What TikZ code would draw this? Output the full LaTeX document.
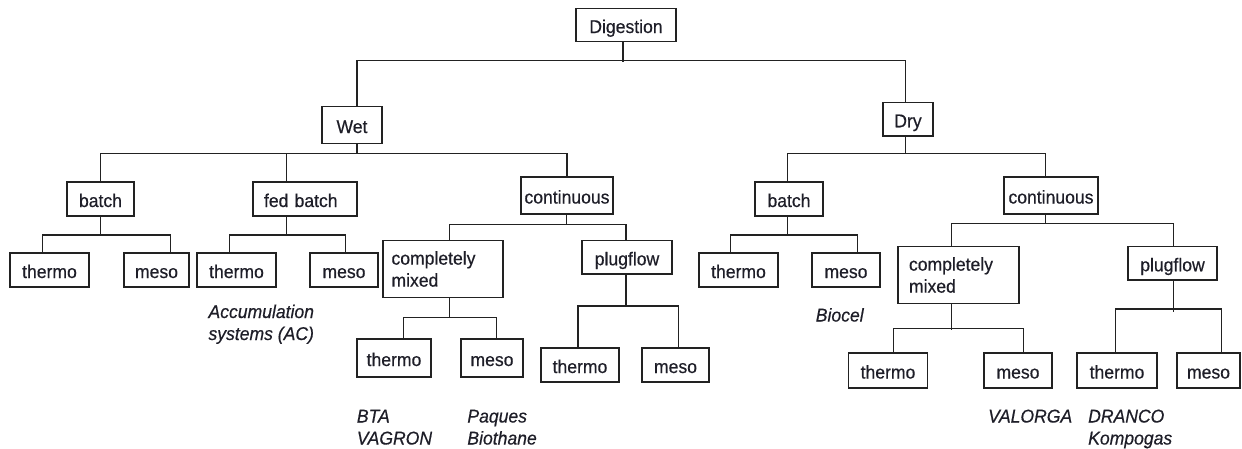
\documentclass[tikz,border=0pt]{standalone}
\usepackage{fontspec}
\setmainfont[FakeStretch=0.95,FakeBold=0.5]{Liberation Sans}
\definecolor{linegray}{HTML}{222222}
\definecolor{textdark}{HTML}{1E1E28}
\begin{document}
\begin{tikzpicture}[x=1pt,y=-1pt,
  font=\fontsize{18.5}{22}\selectfont,
  frame/.style={draw=linegray, line width=1.3pt, inner sep=0pt, minimum height=34pt, text=textdark},
  box/.style={frame, text height=16pt, text depth=0pt},
  link/.style={draw=linegray, line width=1.3pt},
  maker/.style={font=\fontsize{18.5}{22}\selectfont\itshape, inner sep=0pt, align=left, anchor=base west, text=textdark}
]
\useasboundingbox (0,0) rectangle (1242,448);

% --- boxes ---
\node[box, minimum width=100pt, minimum height=33pt] (dig) at (626,25) {Digestion};
\node[box, minimum width=60pt, minimum height=37pt] (wet) at (352,125) {Wet};
\node[box, minimum width=50pt, minimum height=33.5pt] (dry) at (908,119.25) {Dry};

\node[box, minimum width=67pt] (wbatch) at (100.5,199) {batch};
\node[box, text width=82pt, inner xsep=11pt, align=left] (fedb) at (305,199) {fed batch};
\node[box, minimum width=92pt, minimum height=37pt] (wcont) at (567,195.5) {continuous};
\node[box, minimum width=68pt] (dbatch) at (789,199) {batch};
\node[box, minimum width=94pt, minimum height=37pt] (dcont) at (1051,195.5) {continuous};

\node[box, minimum width=79pt] (wbt) at (49.5,270) {thermo};
\node[box, minimum width=65pt] (wbm) at (156.5,270) {meso};
\node[box, minimum width=79pt] (fbt) at (236.5,270) {thermo};
\node[box, minimum width=68pt] (fbm) at (344,270) {meso};

\node[frame, text width=103pt, inner xsep=8.5pt, align=left, minimum height=57pt] (wcm) at (443,269) {completely\\mixed};
\node[box, minimum width=90pt, minimum height=33.5pt] (wpf) at (627,257.25) {plugflow};
\node[box, minimum width=74pt, minimum height=38pt] (wcmt) at (394,358) {thermo};
\node[box, minimum width=62pt, minimum height=38pt] (wcmm) at (492,358) {meso};
\node[box, minimum width=78pt] (wpft) at (580,365) {thermo};
\node[box, minimum width=67pt] (wpfm) at (675.5,365) {meso};

\node[box, minimum width=79pt] (dbt) at (738.5,270) {thermo};
\node[box, minimum width=68pt] (dbm) at (846,270) {meso};
\node[frame, text width=99pt, inner xsep=11pt, align=left, minimum height=57pt] (dcm) at (958.5,275) {completely\\mixed};
\node[box, minimum width=89pt, minimum height=33.5pt] (dpf) at (1172.5,263.25) {plugflow};
\node[box, minimum width=79pt, minimum height=35pt] (dcmt) at (888,370.5) {thermo};
\node[box, minimum width=68pt, minimum height=35pt] (dcmm) at (1018,370.5) {meso};
\node[box, minimum width=80pt, minimum height=35pt] (dpft) at (1117,370.5) {thermo};
\node[box, minimum width=63pt, minimum height=35pt] (dpfm) at (1208.5,370.5) {meso};

% --- example plants (anchored at the baseline of the last line) ---
\node[maker] (acc) at (208.3,340) {Accumulation\\systems (AC)};
\node[maker] (bta) at (356.7,444.5) {BTA\\VAGRON};
\node[maker] (paq) at (467.2,444.5) {Paques\\Biothane};
\node[maker] (bio) at (815.6,321.5) {Biocel};
\node[maker] (val) at (988,422.5) {VALORGA};
\node[maker] (dra) at (1088,444.5) {DRANCO\\Kompogas};

% --- bus junctions ---
\coordinate (b0) at (623,60.3);
\coordinate (b1) at (357,153.3);
\coordinate (b2) at (905.6,153.3);
\coordinate (b3) at (100.4,235);
\coordinate (b4) at (286.7,235);
\coordinate (b5) at (566.2,224.5);
\coordinate (b6) at (449.6,317.7);
\coordinate (b7) at (626,306);
\coordinate (b8) at (787.4,235);
\coordinate (b9) at (1045.2,223.3);
\coordinate (b10) at (951.6,328.3);
\coordinate (b11) at (1173.3,309);

% --- connectors ---
\draw[link] (dig.south -| b0) -- ([yshift=-2pt]b0);
\draw[link] ([xshift=5pt]wet.north) |- (b0) -| ([xshift=-2.4pt]dry.north);

\draw[link] (wet.south -| b1) -- (b1);
\draw[link] (wbatch.north) |- (b1) -| (wcont.north);
\draw[link] ([xshift=-18.3pt]fedb.north) |- (b1);

\draw[link] (dry.south -| b2) -- (b2);
\draw[link] ([xshift=-1.6pt]dbatch.north) |- (b2) -| ([xshift=-5.8pt]dcont.north);

\draw[link] (wbatch.south -| b3) -- (b3);
\draw[link] ([xshift=-6.8pt]wbt.north) |- (b3) -| ([xshift=14.3pt]wbm.north);

\draw[link] (fedb.south -| b4) -- (b4);
\draw[link] ([xshift=-7.2pt]fbt.north) |- (b4) -| ([xshift=1.2pt]fbm.north);

\draw[link] (wcont.south -| b5) -- (b5);
\draw[link] ([xshift=6.6pt]wcm.north) |- (b5) -| ([xshift=-1pt]wpf.north);

\draw[link] (wcm.south -| b6) -- (b6);
\draw[link] ([xshift=9.3pt]wcmt.north) |- (b6) -| ([xshift=4.6pt]wcmm.north);

\draw[link] (wpf.south -| b7) -- (b7);
\draw[link] ([xshift=-2pt]wpft.north) |- (b7) -| ([xshift=3.2pt]wpfm.north);

\draw[link] (dbatch.south -| b8) -- (b8);
\draw[link] ([xshift=-8.2pt]dbt.north) |- (b8) -| ([xshift=11.2pt]dbm.north);

\draw[link] (dcont.south -| b9) -- (b9);
\draw[link] ([xshift=-6.9pt]dcm.north) |- (b9) -| ([xshift=0.8pt]dpf.north);

\draw[link] (dcm.south -| b10) -- ([yshift=-2pt]b10);
\draw[link] ([xshift=5.3pt]dcmt.north) |- (b10) -| ([xshift=5.8pt]dcmm.north);

\draw[link] (dpf.south -| b11) -- ([yshift=-3pt]b11);
\draw[link] ([xshift=-1.2pt]dpft.north) |- (b11) -| ([xshift=13.2pt]dpfm.north);
\end{tikzpicture}
\end{document}
